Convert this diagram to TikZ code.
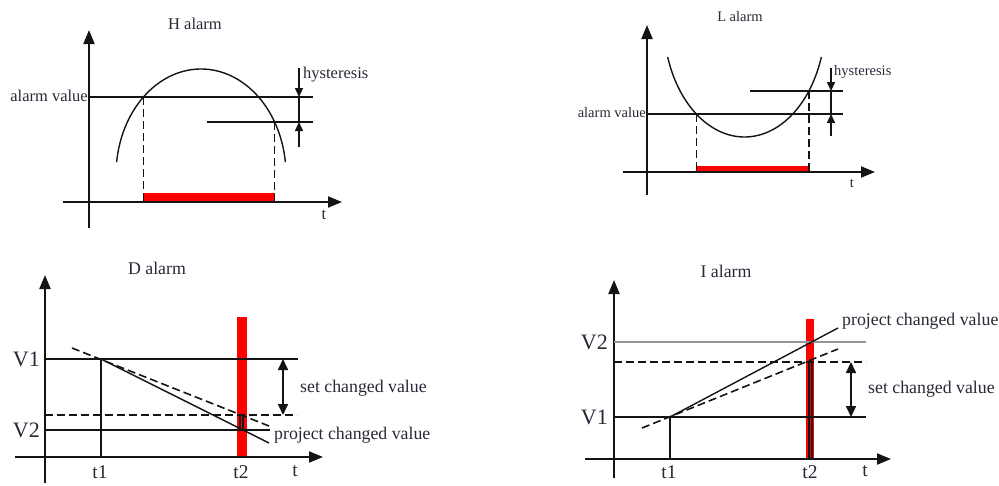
\documentclass[tikz,border=0pt]{standalone}
\usepackage{fontspec}
\setmainfont{Liberation Serif}
\usetikzlibrary{arrows.meta}
\definecolor{txt}{RGB}{40,40,55}
\definecolor{ln}{RGB}{20,20,20}
\definecolor{alarmred}{RGB}{255,0,0}
\definecolor{grayln}{RGB}{150,150,150}
\begin{document}
\begin{tikzpicture}[x=1pt,y=-1pt,
  axisarrow/.style={line width=2.1pt,draw=ln,-{Triangle[length=14pt,width=11pt]}},
  plainline/.style={line width=1.6pt,draw=ln},
  curveline/.style={line width=1.4pt,draw=ln},
  dashline/.style={line width=1.6pt,draw=ln,dash pattern=on 8pt off 4pt},
  hysarrow/.style={line width=1.5pt,draw=ln,-{Triangle[length=9pt,width=8pt]}},
  dblarrow/.style={line width=1.7pt,draw=ln,{Triangle[length=11pt,width=10pt]}-{Triangle[length=11pt,width=10pt]}},
  redbar/.style={fill=alarmred,draw=none},
  blackrect/.style={draw=ln,line width=1.1pt},
  lblH/.style={text=txt,inner sep=0pt,font=\fontsize{16.5}{19}\selectfont},
  lblL/.style={text=txt,inner sep=0pt,font=\fontsize{14.5}{17}\selectfont},
  lblD/.style={text=txt,inner sep=0pt,font=\fontsize{17.8}{20}\selectfont},
  vlbl/.style={text=txt,inner sep=0pt,font=\fontsize{22}{24}\selectfont},
  tlbl/.style={text=txt,inner sep=0pt,font=\fontsize{19.5}{22}\selectfont}]
\useasboundingbox (0,0) rectangle (999,485);

% ================= H alarm =================
\coordinate (hA1) at (143.4,97);
\coordinate (hA2) at (274.6,122);
\coordinate (hB1) at (143.4,202);
\coordinate (hB2) at (274.6,202);
\fill[redbar] (143.4,193) rectangle (274.6,202);
\coordinate (hyb) at (89,228); \coordinate (hyt) at (89,30);
\coordinate (hxl) at (63,202); \coordinate (hxr) at (342,202);
\draw[axisarrow] (hyb) -- (hyt);
\draw[axisarrow] (hxl) -- (hxr);
\coordinate (hal) at (89,97); \coordinate (har) at (313,97);
\coordinate (hll) at (207,122); \coordinate (hlr) at (313,122);
\draw[plainline] (hal) -- (har);
\draw[plainline] (hll) -- (hlr);
\draw[curveline] plot[domain=7:173,samples=80,smooth] ({201+85*cos(\x)},{175-106*sin(\x)});
\draw[dashline] (hA1) -- (hB1);
\draw[dashline] (hA2) -- (hB2);
\coordinate (hh0) at (299,68); \coordinate (hh1) at (299,97);
\coordinate (hh2) at (299,122); \coordinate (hh3) at (299,147);
\draw[hysarrow] (hh0) -- (hh1);
\draw[plainline] (hh1) -- (hh2);
\draw[hysarrow] (hh3) -- (hh2);
\node[lblH] (htitle) at (195,24) {H alarm};
\node[lblH,anchor=east] (hav) at (88,96) {alarm value};
\node[lblH,anchor=west] (hhys) at (303,75) {hysteresis};
\node[lblH] (ht) at (324,215) {t};

% ================= L alarm =================
\coordinate (lA1) at (696.3,114);
\coordinate (lA2) at (808.9,91);
\coordinate (lB1) at (696.3,172);
\coordinate (lB2) at (808.9,172);
\fill[redbar] (696.3,166) rectangle (808.9,172);
\coordinate (lyb) at (647,195); \coordinate (lyt) at (647,25);
\coordinate (lxl) at (623,172); \coordinate (lxr) at (875,172);
\draw[axisarrow] (lyb) -- (lyt);
\draw[axisarrow] (lxl) -- (lxr);
\coordinate (lal) at (647,114); \coordinate (lar) at (843,114);
\coordinate (lul) at (750,91); \coordinate (lur) at (843,91);
\draw[plainline] (lal) -- (lar);
\draw[plainline] (lul) -- (lur);
\draw[curveline] plot[domain=18.4:161.6,samples=80,smooth] ({744.5+81*cos(\x)},{20+117*sin(\x)});
\draw[dashline] (lA1) -- (lB1);
\draw[dashline] (lA2) -- (lB2);
\coordinate (lh0) at (831,68); \coordinate (lh1) at (831,91);
\coordinate (lh2) at (831,114); \coordinate (lh3) at (831,136);
\draw[hysarrow] (lh0) -- (lh1);
\draw[plainline] (lh1) -- (lh2);
\draw[hysarrow] (lh3) -- (lh2);
\node[lblL] (ltitle) at (740,17) {L alarm};
\node[lblL,anchor=east] (lav) at (646,113) {alarm value};
\node[lblL,anchor=west] (lhys) at (834,72) {hysteresis};
\node[lblL] (lt) at (852,183) {t};

% ================= D alarm =================
\fill[redbar] (237,317) rectangle (247,457);
\draw[blackrect] (240,415) rectangle (243,430);
\coordinate (dyb) at (45,483); \coordinate (dyt) at (45,275);
\coordinate (dxl) at (15,457); \coordinate (dxr) at (323,457);
\draw[axisarrow] (dyb) -- (dyt);
\draw[axisarrow] (dxl) -- (dxr);
\coordinate (dv1l) at (45,359); \coordinate (dv1r) at (298,359);
\coordinate (ddl) at (45,415); \coordinate (ddr) at (297,415);
\coordinate (dv2l) at (45,430); \coordinate (dv2r) at (270,430);
\draw[plainline] (dv1l) -- (dv1r);
\draw[dashline] (ddl) -- (ddr);
\draw[plainline] (dv2l) -- (dv2r);
\coordinate (dt1) at (101,359); \coordinate (dt1b) at (101,457);
\draw[plainline] (dt1) -- (dt1b);
\coordinate (dse) at (269,443);
\draw[curveline] (dt1) -- (dse);
\coordinate (dds) at (72,348); \coordinate (dde) at (269,426);
\draw[dashline] (dds) -- (dde);
\coordinate (dar1) at (283,359); \coordinate (dar2) at (283,415);
\draw[dblarrow] (dar1) -- (dar2);
\node[lblD] (dtitle) at (157,268) {D alarm};
\node[vlbl,anchor=east] (dV1) at (40,359) {V1};
\node[vlbl,anchor=east] (dV2) at (40,430) {V2};
\node[tlbl] (dT1) at (100,472) {t1};
\node[tlbl] (dT2) at (241,472) {t2};
\node[tlbl] (dT) at (295,471) {t};
\node[lblD,anchor=west] (dset) at (300,388) {set changed value};
\node[lblD,anchor=west] (dproj) at (274,435) {project changed value};

% ================= I alarm =================
\fill[redbar] (806,319) rectangle (814,459);
\draw[blackrect] (809,362) rectangle (812,458);
\coordinate (iyb) at (614,478); \coordinate (iyt) at (614,280);
\coordinate (ixl) at (585,459); \coordinate (ixr) at (891,459);
\draw[axisarrow] (iyb) -- (iyt);
\draw[axisarrow] (ixl) -- (ixr);
\coordinate (iv2l) at (614,342); \coordinate (iv2r) at (866,342);
\coordinate (idl) at (614,362); \coordinate (idr) at (866,362);
\coordinate (iv1l) at (614,417); \coordinate (iv1r) at (866,417);
\draw[line width=1.3pt,draw=grayln] (iv2l) -- (iv2r);
\draw[dashline] (idl) -- (idr);
\draw[plainline] (iv1l) -- (iv1r);
\coordinate (it1) at (670,417); \coordinate (it1b) at (670,459);
\draw[plainline] (it1) -- (it1b);
\coordinate (ise) at (838,328);
\draw[curveline] (it1) -- (ise);
\coordinate (ids) at (642,428); \coordinate (ide) at (838,349);
\draw[dashline] (ids) -- (ide);
\coordinate (iar1) at (851,362); \coordinate (iar2) at (851,417);
\draw[dblarrow] (iar1) -- (iar2);
\node[lblD] (ititle) at (726,271) {I alarm};
\node[vlbl,anchor=east] (iV2) at (608,342) {V2};
\node[vlbl,anchor=east] (iV1) at (608,417) {V1};
\node[tlbl] (iT1) at (669,472) {t1};
\node[tlbl] (iT2) at (810,472) {t2};
\node[tlbl] (iT) at (865,471) {t};
\node[lblD,anchor=west] (iproj) at (842,321) {project changed value};
\node[lblD,anchor=west] (iset) at (868,389) {set changed value};
\end{tikzpicture}
\end{document}
